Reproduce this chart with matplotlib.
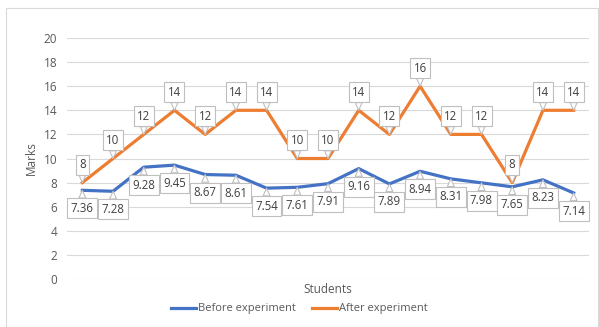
import matplotlib.pyplot as plt
from matplotlib.patches import Rectangle

students = list(range(1, 18))
before = [7.36, 7.28, 9.28, 9.45, 8.67, 8.61, 7.54, 7.61, 7.91, 9.16, 7.89, 8.94, 8.31, 7.98, 7.65, 8.23, 7.14]
after = [8, 10, 12, 14, 12, 14, 14, 10, 10, 14, 12, 16, 12, 12, 8, 14, 14]
yticks = [0, 2, 4, 6, 8, 10, 12, 14, 16, 18, 20]

blue = '#4472C4'
orange = '#ED7D31'
grey_txt = '#595959'

plt.rcParams['font.family'] = ['Open Sans', 'DejaVu Sans']

fig = plt.figure(figsize=(5.99, 3.27), dpi=100)
fig.patches.append(Rectangle((6/599, 0.0), 592/599, 1 - 8/327, transform=fig.transFigure,
                             fill=False, edgecolor='#D9D9D9', lw=0.8))
ax = fig.add_axes([67/599, 1 - 279/327, 522/599, 241/327])

x = list(range(len(students)))
ax.plot(x, before, color=blue, lw=2.3, label='Before experiment', zorder=3, solid_joinstyle='round')
ax.plot(x, after, color=orange, lw=2.3, label='After experiment', zorder=3, solid_joinstyle='round')

def label(i, v, txt, dy):
    ax.annotate(txt, xy=(i, v), xytext=(0, dy), textcoords='offset points',
                ha='center', va='center', fontsize=8.3, color='#404040', zorder=5,
                bbox=dict(boxstyle='square,pad=0.3', fc='white', ec='#BFBFBF', lw=0.8),
                arrowprops=dict(arrowstyle='wedge,tail_width=0.6,shrink_factor=0.5',
                                fc='white', ec='#BFBFBF', lw=0.8, shrinkA=0, shrinkB=0))

for i, v in enumerate(before):
    label(i, v, f'{v:.2f}', -13)
for i, v in enumerate(after):
    label(i, v, f'{v:g}', 13)

ax.set_xlim(-0.5, len(students) - 0.5)
ax.set_ylim(0, 20)
ax.set_yticks(yticks)
ax.set_xticks([])
ax.grid(axis='y', color='#D9D9D9', lw=0.8)
ax.set_axisbelow(True)
for s in ax.spines.values():
    s.set_visible(False)
ax.tick_params(axis='y', length=0, labelsize=8.5, labelcolor=grey_txt, pad=7)
ax.set_ylabel('Marks', fontsize=8.5, color=grey_txt, labelpad=4)
ax.set_xlabel('Students', fontsize=8.5, color=grey_txt, labelpad=3)

fig.legend(loc='center', bbox_to_anchor=(0.5, 1 - 309/327), ncol=2, frameon=False,
           fontsize=8, labelcolor=grey_txt, handlelength=2.2, handletextpad=0.2,
           columnspacing=1.5)

fig.savefig('out.png', dpi=100)
